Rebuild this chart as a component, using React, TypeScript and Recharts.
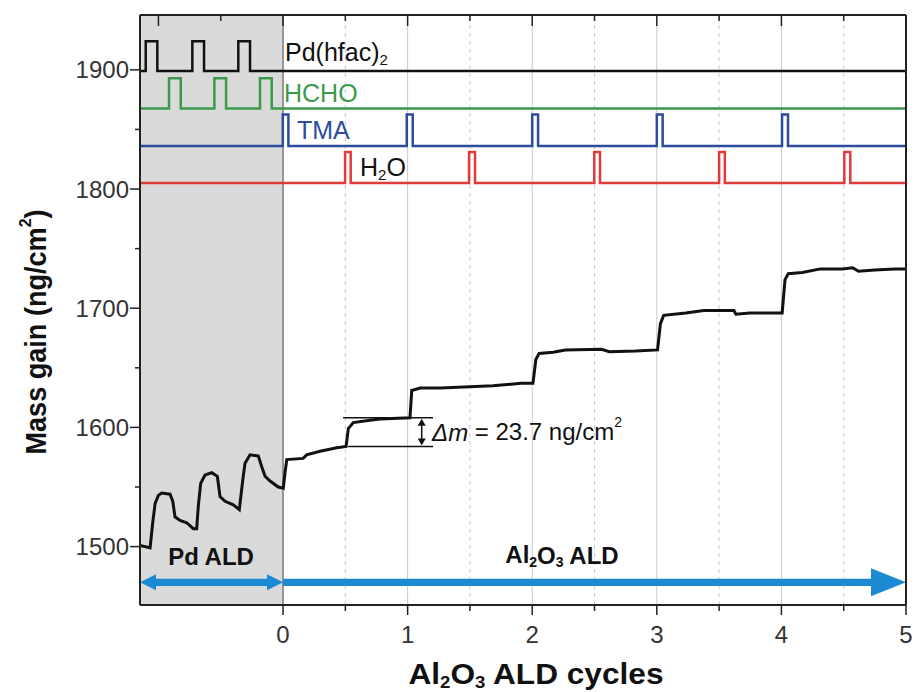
import React from 'react';
import { ComposedChart, Line, XAxis, YAxis, ReferenceArea, ReferenceLine, ReferenceDot } from 'recharts';

const FONT = "'Liberation Sans', Arial, sans-serif";
const X_MIN = -1.148;
const X_MAX = 5;

// mass gain trace (x in Al2O3 ALD cycles, y in ng/cm2)
const massX = [-1.148, -1.108, -1.067, -1.046, -1.027, -1.001, -0.974, -0.907, -0.885, -0.867, -0.827, -0.773, -0.72, -0.693, -0.68, -0.661, -0.626, -0.572, -0.527, -0.506, -0.465, -0.399, -0.351, -0.323, -0.305, -0.265, -0.198, -0.171, -0.144, -0.104, -0.038, 0.002, 0.016, 0.03, 0.161, 0.19, 0.297, 0.431, 0.506, 0.524, 0.564, 0.698, 0.778, 1.019, 1.033, 1.1, 1.265, 1.684, 1.91, 2.006, 2.029, 2.055, 2.168, 2.265, 2.555, 2.619, 2.829, 3.006, 3.029, 3.055, 3.232, 3.377, 3.619, 3.635, 3.748, 4.006, 4.029, 4.055, 4.168, 4.313, 4.49, 4.571, 4.619, 4.748, 4.91, 5.0];
const massY = [1501, 1500, 1499, 1520, 1536, 1543, 1545, 1544, 1538, 1525, 1522, 1520, 1515, 1515, 1534, 1553, 1560, 1562, 1559, 1542, 1538, 1535, 1531, 1556, 1570, 1577, 1576, 1567, 1559, 1555, 1550, 1549, 1562, 1573, 1574, 1577, 1580, 1583, 1584, 1599, 1604, 1606, 1607, 1608, 1631, 1633, 1633, 1635, 1637, 1637, 1657, 1662, 1663, 1665, 1665.5, 1663.5, 1664, 1665, 1687, 1694, 1696, 1698, 1698, 1695, 1696, 1696, 1724, 1729, 1730, 1733, 1733, 1734, 1731, 1732, 1733, 1733];

// precursor pulses [start, end] and their [baseline, top] levels
const pdPulses = [[-1.102, -1.009], [-0.728, -0.634], [-0.359, -0.265]];
const hchoPulses = [[-0.915, -0.821], [-0.551, -0.457], [-0.185, -0.091]];
const tmaPulses = [[-0.002, 0.043], [0.993, 1.041], [2.0, 2.047], [3.0, 3.047], [4.005, 4.053]];
const h2oPulses = [[0.498, 0.543], [1.493, 1.541], [2.498, 2.544], [3.5, 3.546], [4.505, 4.553]];
const pdLevel = [1899, 1924];
const hchoLevel = [1867.5, 1893];
const tmaLevel = [1836, 1862.5];
const h2oLevel = [1805, 1831];

// delta-m markers for the first Al2O3 cycle
const deltaLow = 1584;
const deltaHigh = 1608;

const bottomTicks = [0, 0.5, 1, 1.5, 2, 2.5, 3, 3.5, 4, 4.5, 5];
const topTicks = [-1, -0.5, ...bottomTicks];
const yTicks = [1500, 1550, 1600, 1650, 1700, 1750, 1800, 1850, 1900];
const gridMajor = [1, 2, 3, 4];
const gridMinor = [0.5, 1.5, 2.5, 3.5, 4.5];

const massData = massX.map((x, i) => ({ x, y: massY[i] }));

const pulseTrace = (pulses: number[][], level: number[]) => {
  const [base, top] = level;
  const pts = [{ x: X_MIN, y: base }];
  pulses.forEach(([s, e]) => {
    pts.push({ x: s, y: base }, { x: s, y: top }, { x: e, y: top }, { x: e, y: base });
  });
  pts.push({ x: X_MAX, y: base });
  return pts;
};

const BottomTick = ({ x, y, payload }: any) => {
  const major = payload.value % 1 === 0;
  return (
    <g>
      <line x1={x} x2={x} y1={y} y2={y + (major ? 10 : 6)} stroke="#222" strokeWidth={1.5} />
      {major && (
        <text x={x} y={y + 29} textAnchor="middle" dominantBaseline="central" fontSize={24} fill="#333" fontFamily={FONT}>
          {payload.value}
        </text>
      )}
    </g>
  );
};

const TopTick = ({ x, y, payload }: any) => {
  const major = payload.value % 1 === 0;
  return <line x1={x} x2={x} y1={y} y2={y + (major ? 11 : 6)} stroke="#222" strokeWidth={1.5} />;
};

const LeftTick = ({ x, y, payload }: any) => {
  const major = payload.value % 100 === 0;
  return (
    <g>
      <line x1={x - (major ? 10 : 5)} x2={x} y1={y} y2={y} stroke="#222" strokeWidth={1.5} />
      {major && (
        <text x={x - 11} y={y} textAnchor="end" dominantBaseline="central" fontSize={24} fill="#333" fontFamily={FONT}>
          {payload.value}
        </text>
      )}
    </g>
  );
};

const doubleArrow = (p: any) => {
  const { x1, x2, y1: y } = p;
  const t = 3.6, hh = 8, hl = 16;
  const d = `M${x1},${y} L${x1 + hl},${y - hh} L${x1 + hl},${y - t} L${x2 - hl},${y - t} L${x2 - hl},${y - hh} L${x2},${y} L${x2 - hl},${y + hh} L${x2 - hl},${y + t} L${x1 + hl},${y + t} L${x1 + hl},${y + hh} Z`;
  return <path d={d} fill="#1b8ad3" />;
};

const rightArrow = (p: any) => {
  const { x1, x2, y1: y } = p;
  const t = 3.6, hh = 14, hl = 35;
  const d = `M${x1},${y - t} L${x2 - hl},${y - t} L${x2 - hl},${y - hh} L${x2},${y} L${x2 - hl},${y + hh} L${x2 - hl},${y + t} L${x1},${y + t} Z`;
  return <path d={d} fill="#1b8ad3" />;
};

const smallArrow = (p: any) => {
  const { x1, y1, y2 } = p;
  const top = Math.min(y1, y2), bot = Math.max(y1, y2);
  return (
    <g>
      <line x1={x1} x2={x1} y1={top + 4} y2={bot - 4} stroke="#111" strokeWidth={1.5} />
      <path d={`M${x1},${top + 1} L${x1 - 4},${top + 8} L${x1 + 4},${top + 8} Z`} fill="#111" />
      <path d={`M${x1},${bot - 1} L${x1 - 4},${bot - 8} L${x1 + 4},${bot - 8} Z`} fill="#111" />
    </g>
  );
};

const label = (content: React.ReactNode, opts: { color?: string; anchor?: string; bold?: boolean; size?: number } = {}) =>
  (p: any) => (
    <text
      x={p.cx}
      y={p.cy}
      textAnchor={opts.anchor || 'start'}
      dominantBaseline="central"
      fontSize={opts.size || 25}
      fontWeight={opts.bold ? 'bold' : 'normal'}
      fill={opts.color || '#111'}
      fontFamily={FONT}
    >
      {content}
    </text>
  );

export default function App() {
  return (
    <div style={{ position: 'absolute', left: 0, top: 0, width: 917, height: 692, background: '#fff' }}>
      <ComposedChart width={917} height={692} margin={{ top: 10, right: 11, bottom: 47, left: 80 }}>
        <ReferenceArea x1={X_MIN} x2={0} fill="#dadada" fillOpacity={1} stroke="none" ifOverflow="visible" />
        {gridMinor.map((v) => (
          <ReferenceLine key={`mi${v}`} x={v} stroke="#c9c9c9" strokeDasharray="4 4" strokeWidth={1} />
        ))}
        {gridMajor.map((v) => (
          <ReferenceLine key={`ma${v}`} x={v} stroke="#c9c9c9" strokeWidth={1} />
        ))}
        <ReferenceLine x={0} stroke="#7a7a7a" strokeWidth={1.5} />

        <Line xAxisId="top" data={pulseTrace(pdPulses, pdLevel)} dataKey="y" type="linear" stroke="#111" strokeWidth={2.5} dot={false} isAnimationActive={false} />
        <Line xAxisId="top" data={pulseTrace(hchoPulses, hchoLevel)} dataKey="y" type="linear" stroke="#3b9a4a" strokeWidth={2.5} dot={false} isAnimationActive={false} />
        <Line xAxisId="top" data={pulseTrace(tmaPulses, tmaLevel)} dataKey="y" type="linear" stroke="#2e4c9e" strokeWidth={2.5} dot={false} isAnimationActive={false} />
        <Line xAxisId="top" data={pulseTrace(h2oPulses, h2oLevel)} dataKey="y" type="linear" stroke="#e03a3a" strokeWidth={2.5} dot={false} isAnimationActive={false} />
        <Line data={massData} dataKey="y" type="linear" stroke="#111" strokeWidth={3} dot={false} isAnimationActive={false} />

        <ReferenceLine segment={[{ x: 0.482, y: deltaHigh }, { x: 1.204, y: deltaHigh }]} stroke="#111" strokeWidth={1.5} />
        <ReferenceLine segment={[{ x: 0.522, y: deltaLow }, { x: 1.204, y: deltaLow }]} stroke="#111" strokeWidth={1.5} />
        <ReferenceLine segment={[{ x: 1.113, y: deltaLow }, { x: 1.113, y: deltaHigh }]} shape={smallArrow} />

        <ReferenceLine segment={[{ x: X_MIN, y: 1470 }, { x: 0, y: 1470 }]} shape={doubleArrow} ifOverflow="visible" />
        <ReferenceLine segment={[{ x: 0, y: 1470 }, { x: X_MAX, y: 1470 }]} shape={rightArrow} ifOverflow="visible" />

        <ReferenceDot x={0.016} y={1914.8} r={0} shape={label(<>Pd(hfac)<tspan fontSize={15} dy={7}>2</tspan></>)} />
        <ReferenceDot x={0.008} y={1880.4} r={0} shape={label('HCHO', { color: '#3b9a4a' })} />
        <ReferenceDot x={0.112} y={1849.4} r={0} shape={label('TMA', { color: '#2e4c9e' })} />
        <ReferenceDot x={0.618} y={1818.4} r={0} shape={label(<>H<tspan fontSize={15} dy={7}>2</tspan><tspan dy={-7}>O</tspan></>)} />
        <ReferenceDot x={1.196} y={1596.2} r={0} shape={label(<><tspan fontStyle="italic">Δm</tspan> = 23.7 ng/cm<tspan fontSize={14} dy={-10}>2</tspan></>, { size: 24 })} />
        <ReferenceDot x={-0.578} y={1491.5} r={0} shape={label('Pd ALD', { anchor: 'middle', bold: true, size: 24 })} />
        <ReferenceDot x={2.239} y={1493.1} r={0} shape={label(<>Al<tspan fontSize={14} dy={7}>2</tspan><tspan dy={-7}>O</tspan><tspan fontSize={14} dy={7}>3</tspan><tspan dy={-7}> ALD</tspan></>, { anchor: 'middle', bold: true, size: 24 })} />

        <ReferenceLine x={X_MAX} stroke="#222" strokeWidth={2} />

        <XAxis
          xAxisId={0}
          dataKey="x"
          type="number"
          domain={[X_MIN, X_MAX]}
          allowDataOverflow
          ticks={bottomTicks}
          interval={0}
          height={40}
          tickSize={0}
          tickMargin={0}
          tick={<BottomTick />}
          axisLine={{ stroke: '#222', strokeWidth: 2 }}
        />
        <XAxis
          xAxisId="top"
          orientation="top"
          dataKey="x"
          type="number"
          domain={[X_MIN, X_MAX]}
          allowDataOverflow
          ticks={topTicks}
          interval={0}
          height={5}
          tickSize={0}
          tickMargin={0}
          tick={<TopTick />}
          axisLine={{ stroke: '#222', strokeWidth: 2 }}
        />
        <YAxis
          type="number"
          domain={[1451, 1946]}
          allowDataOverflow
          ticks={yTicks}
          interval={0}
          width={60}
          tickSize={0}
          tickMargin={0}
          tick={<LeftTick />}
          axisLine={{ stroke: '#222', strokeWidth: 2 }}
        />
      </ComposedChart>

      <svg width={917} height={692} style={{ position: 'absolute', left: 0, top: 0, pointerEvents: 'none' }}>
        <text
          transform="translate(36,332) rotate(-90)"
          textAnchor="middle"
          dominantBaseline="central"
          fontSize={29}
          fontWeight="bold"
          fontFamily={FONT}
          fill="#111"
          textLength={245}
          lengthAdjust="spacingAndGlyphs"
        >
          Mass gain (ng/cm<tspan fontSize={17} dy={-11}>2</tspan><tspan dy={11}>)</tspan>
        </text>
        <text
          x={536}
          y={674}
          textAnchor="middle"
          dominantBaseline="central"
          fontSize={29}
          fontWeight="bold"
          fontFamily={FONT}
          fill="#111"
          textLength={255}
          lengthAdjust="spacingAndGlyphs"
        >
          Al<tspan fontSize={17} dy={8}>2</tspan><tspan dy={-8}>O</tspan><tspan fontSize={17} dy={8}>3</tspan><tspan dy={-8}> ALD cycles</tspan>
        </text>
      </svg>
    </div>
  );
}
